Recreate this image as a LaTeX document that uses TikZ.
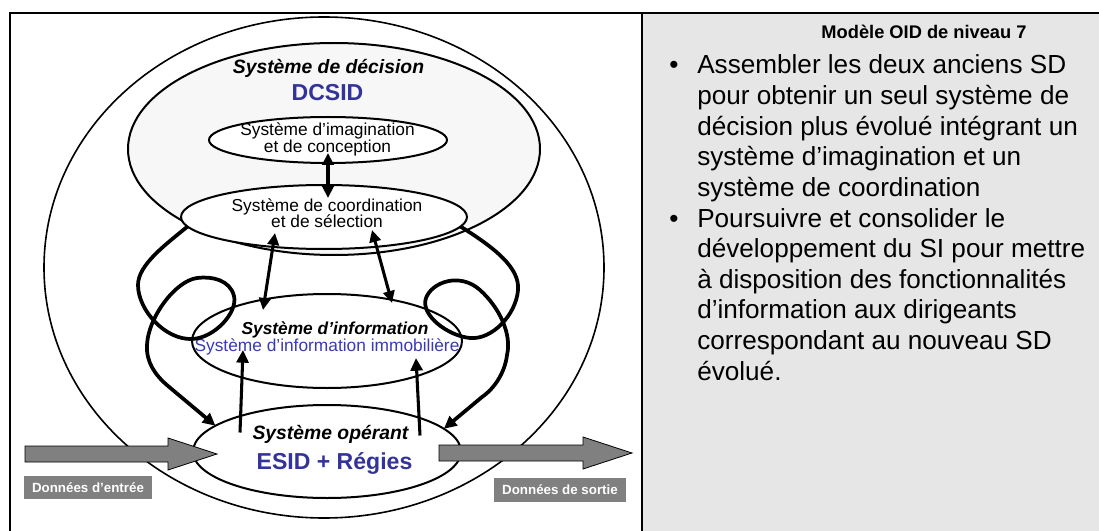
\documentclass[tikz,border=0pt]{standalone}
\usepackage{fontspec}
\setmainfont{Liberation Sans}
\usetikzlibrary{shapes.geometric,arrows.meta,calc}
\definecolor{panel}{HTML}{E6E6E6}
\definecolor{decfill}{HTML}{F7F7F7}
\definecolor{dblue}{HTML}{333399}
\definecolor{lblue}{HTML}{3A3AB8}
\definecolor{arrgray}{HTML}{808080}
\begin{document}
\begin{tikzpicture}[x=0.75pt,y=-0.75pt,
  ell/.style 2 args={ellipse, draw, line width=1.5pt, inner sep=0pt, outer sep=0pt,
    minimum width={0.75pt*#1}, minimum height={0.75pt*#2}},
  head/.style={-{Triangle[length=9.5pt,width=9pt]}},
  dblhead/.style={{Triangle[length=9pt,width=8.5pt]}-{Triangle[length=9pt,width=8.5pt]}},
  straight/.style={line width=2.3pt},
  loopline/.style={line width=2.8pt, line join=round},
  bigarrow/.style={draw=black, line width=0.6pt, fill=arrgray},
  datalabel/.style={fill=arrgray, text=white, font=\fontsize{10}{12}\selectfont\bfseries,
    inner sep=0pt, minimum height=17.5pt},
  rtext/.style={anchor=base west, inner sep=0pt, font=\fontsize{19.6}{23}\selectfont},
  bul/.style={anchor=base, inner sep=0pt, font=\fontsize{19.6}{23}\selectfont},
  lab/.style={anchor=base, inner sep=0pt},
]
\useasboundingbox (0,0) rectangle (1099,531);
% panels
\fill[panel] (642,13) rectangle (1110,560);
\draw[line width=1.5pt] (10,560) -- (10,13) -- (1110,13);
\draw[line width=1.5pt] (642,13) -- (642,560);

% ellipses
\node[ell={560}{501}, line width=1.2pt] (outer) at (324,267.5) {};
\node[ell={412}{212}, fill=decfill] (dec) at (334,149) {};
\node[ell={238}{46}, fill=white] (imag) at (328,140) {};
\node[ell={286}{64}, fill=white] (coord) at (324,217) {};
\node[ell={270}{94}, fill=white] (info) at (327,341) {};
\node[ell={268}{93}, fill=white] (oper) at (327,451.5) {};

% texts in the diagram
\node[lab, font=\fontsize{14.5}{17}\selectfont\bfseries\itshape] (tdec) at (328.5,74) {Système de décision};
\node[lab, font=\fontsize{17.3}{20}\selectfont\bfseries, text=dblue] (tdcsid) at (327.5,101) {DCSID};
\node[lab, font=\fontsize{13}{13}\selectfont] (timag1) at (327.5,136) {Système d’imagination};
\node[lab, font=\fontsize{13}{13}\selectfont] (timag2) at (327.5,153) {et de conception};
\node[lab, font=\fontsize{13}{13}\selectfont] (tcoord1) at (327,211) {Système de coordination};
\node[lab, font=\fontsize{13}{13}\selectfont] (tcoord2) at (327,228) {et de sélection};
\node[lab, font=\fontsize{13}{13}\selectfont\bfseries\itshape] (tinfo) at (335,334) {Système d’information};
\node[lab, font=\fontsize{13}{13}\selectfont, text=lblue] (tinfo2) at (327,351) {Système d’information immobilière};
\node[lab, font=\fontsize{14.5}{17}\selectfont\bfseries\itshape] (toper) at (330.5,439) {Système opérant};
\node[lab, font=\fontsize{17.3}{20}\selectfont\bfseries, text=dblue] (tesid) at (334.5,469) {ESID + Régies};

% straight arrows
\draw[straight, dblhead] ($(imag.center)+(0,13)$) -- ($(coord.center)+(4,-19)$);
\draw[straight, dblhead] ($(coord.center)+(-49,16)$) -- ($(info.center)+(-64,-31)$);
\draw[straight, dblhead] ($(coord.center)+(48,13)$) -- ($(info.center)+(65,-38)$);
\draw[straight, head] ($(oper.center)+(-87,-19)$) -- ($(info.center)+(-84,9)$);
\draw[straight, head] ($(oper.center)+(93,-16)$) -- ($(info.center)+(89,17)$);

% loops
\draw[loopline, head] (coord.184.5) .. controls (165,245) and (138,265) .. (138,285)
  .. controls (138,310) and (165,340) .. (192,339)
  .. controls (215,338) and (238,312) .. (234,296)
  .. controls (230,280) and (212,276) .. (197,278)
  .. controls (175,281) and (148,318) .. (147,345)
  .. controls (146,362) and (155,375) .. (168,386) -- (oper.167);
\draw[loopline, head] (coord.356.8) .. controls (495,248) and (520,268) .. (518,290)
  .. controls (516,315) and (492,340) .. (470,338)
  .. controls (448,336) and (420,315) .. (426,298)
  .. controls (432,282) and (460,272) .. (480,290)
  .. controls (500,308) and (512,335) .. (507,355)
  .. controls (505,372) and (495,388) .. (482,397) -- (oper.11.7);

% grey data arrows
\draw[bigarrow] (25,446) -- (168,446) -- (168,438) -- (217,454) -- (168,470) -- (168,462) -- (25,462) -- cycle;
\draw[bigarrow] (439,445) -- (583,445) -- (583,437) -- (632,453) -- (583,469) -- (583,461) -- (439,461) -- cycle;
\node[datalabel, minimum width=96pt] (lin) at (88,487.5) {Données d’entrée};
\node[datalabel, minimum width=99pt] (lout) at (560,490) {Données de sortie};

% right panel text
\node[lab, font=\fontsize{13.7}{16}\selectfont\bfseries] (title) at (924,38.5) {Modèle OID de niveau 7};
\node[bul] (b1) at (674,74) {•};
\node[bul] (b2) at (674,{74+30.6*5}) {•};
\foreach \t [count=\i from 0] in {Assembler les deux anciens SD, pour obtenir un seul système de,
  décision plus évolué intégrant un, système d’imagination et un, système de coordination,
  Poursuivre et consolider le, développement du SI pour mettre, à disposition des fonctionnalités,
  d’information aux dirigeants, correspondant au nouveau SD, évolué.}
  \node[rtext] (line\i) at (697,{74+30.6*\i}) {\t};
\end{tikzpicture}
\end{document}
